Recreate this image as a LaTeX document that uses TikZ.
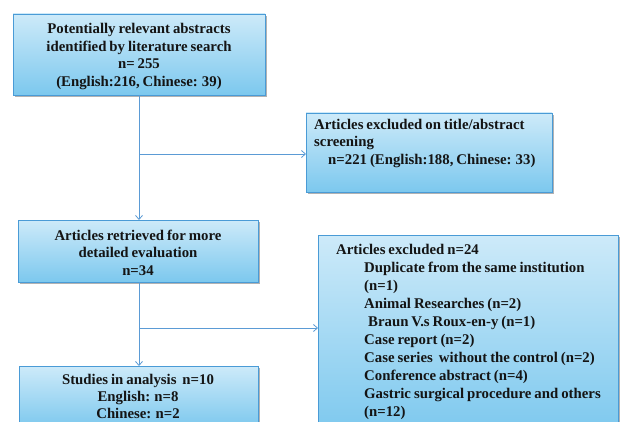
\documentclass[tikz,border=0pt]{standalone}
\usepackage{fontspec}
\setmainfont{Liberation Serif}
\usetikzlibrary{arrows.meta,shadows}
\definecolor{boxtop}{HTML}{CDEAF9}
\definecolor{boxbot}{HTML}{7CC8EE}
\definecolor{boxline}{HTML}{4A9BD6}
\definecolor{conncol}{HTML}{5B9BD5}
\definecolor{txtcol}{HTML}{141414}
\newcommand\mytxtfont{\bfseries\fontsize{14.8}{17.5}\selectfont\spaceskip=0.2em plus 0.1em\relax}
\newcommand\mytxtfontb{\bfseries\fontsize{14.8}{18}\selectfont\spaceskip=0.2em plus 0.1em\relax}
\newcommand\mytxtfontc{\bfseries\fontsize{14.8}{17}\selectfont\spaceskip=0.2em plus 0.1em\relax}
\begin{document}
\begin{tikzpicture}[x=1pt,y=-1pt,
  boxstyle/.style={draw=boxline, line width=0.8pt, top color=boxtop, bottom color=boxbot,
    inner sep=0pt, outer sep=0pt,
    drop shadow={shadow xshift=1.5pt,shadow yshift=-1.8pt,fill=black,opacity=0.3}},
  txtstyle/.style={inner sep=0pt, text=txtcol, font=\mytxtfont},
  conn/.style={draw=conncol, line width=0.8pt, -{Straight Barb[length=4pt,width=7pt]}}]
\useasboundingbox (0,0) rectangle (620,422);
\fill[white] (0,0) rectangle (620,422);
\clip (0,0) rectangle (620,422);
% boxes
\node[boxstyle, minimum width=252pt, minimum height=81pt] (b1) at (139,54.5) {};
\node[boxstyle, minimum width=246pt, minimum height=79pt] (b2) at (429,152.5) {};
\node[boxstyle, minimum width=240pt, minimum height=62pt] (b3) at (138,251) {};
\node[boxstyle, minimum width=300pt, minimum height=200pt] (b4) at (468,335) {};
\node[boxstyle, minimum width=239pt, minimum height=62pt] (b5) at (138.5,397) {};
% texts
\node[txtstyle, align=center] (t1) at (139,56.5) {Potentially relevant abstracts\\identified by literature search\\n= 255\\(English:216, Chinese: 39)};
\node[txtstyle, align=left, anchor=north west] (t2) at (314,119) {Articles excluded on title/abstract\\screening\\\hspace*{14pt}n=221 (English:188, Chinese: 33)};
\node[txtstyle, align=center] (t3) at (138,252.5) {Articles retrieved for more\\detailed evaluation\\n=34};
\node[txtstyle, align=left, anchor=north west, font=\mytxtfontb] (t4) at (336,244) {Articles excluded n=24\\
\hspace*{28pt}Duplicate from the same institution\\
\hspace*{28pt}(n=1)\\
\hspace*{28pt}Animal Researches (n=2)\\
\hspace*{32pt}Braun V.s Roux-en-y (n=1)\\
\hspace*{28pt}Case report (n=2)\\
\hspace*{28pt}Case series\ \ without the control (n=2)\\
\hspace*{28pt}Conference abstract (n=4)\\
\hspace*{28pt}Gastric surgical procedure and others\\
\hspace*{28pt}(n=12)};
\node[txtstyle, align=center, font=\mytxtfontc] (t5) at (138,396) {Studies in analysis\ \ n=10\\English: n=8\\Chinese: n=2};
% connectors
\coordinate (j1) at (139,154);
\coordinate (j2) at (139,328);
\draw[conn] (b1.south -| j1) -- (j1 |- b3.north);
\draw[conn] (j1) -- (j1 -| b2.west);
\draw[conn] (b3.south -| j2) -- (j2 |- b5.north);
\draw[conn] (j2) -- (j2 -| b4.west);
\end{tikzpicture}
\end{document}
